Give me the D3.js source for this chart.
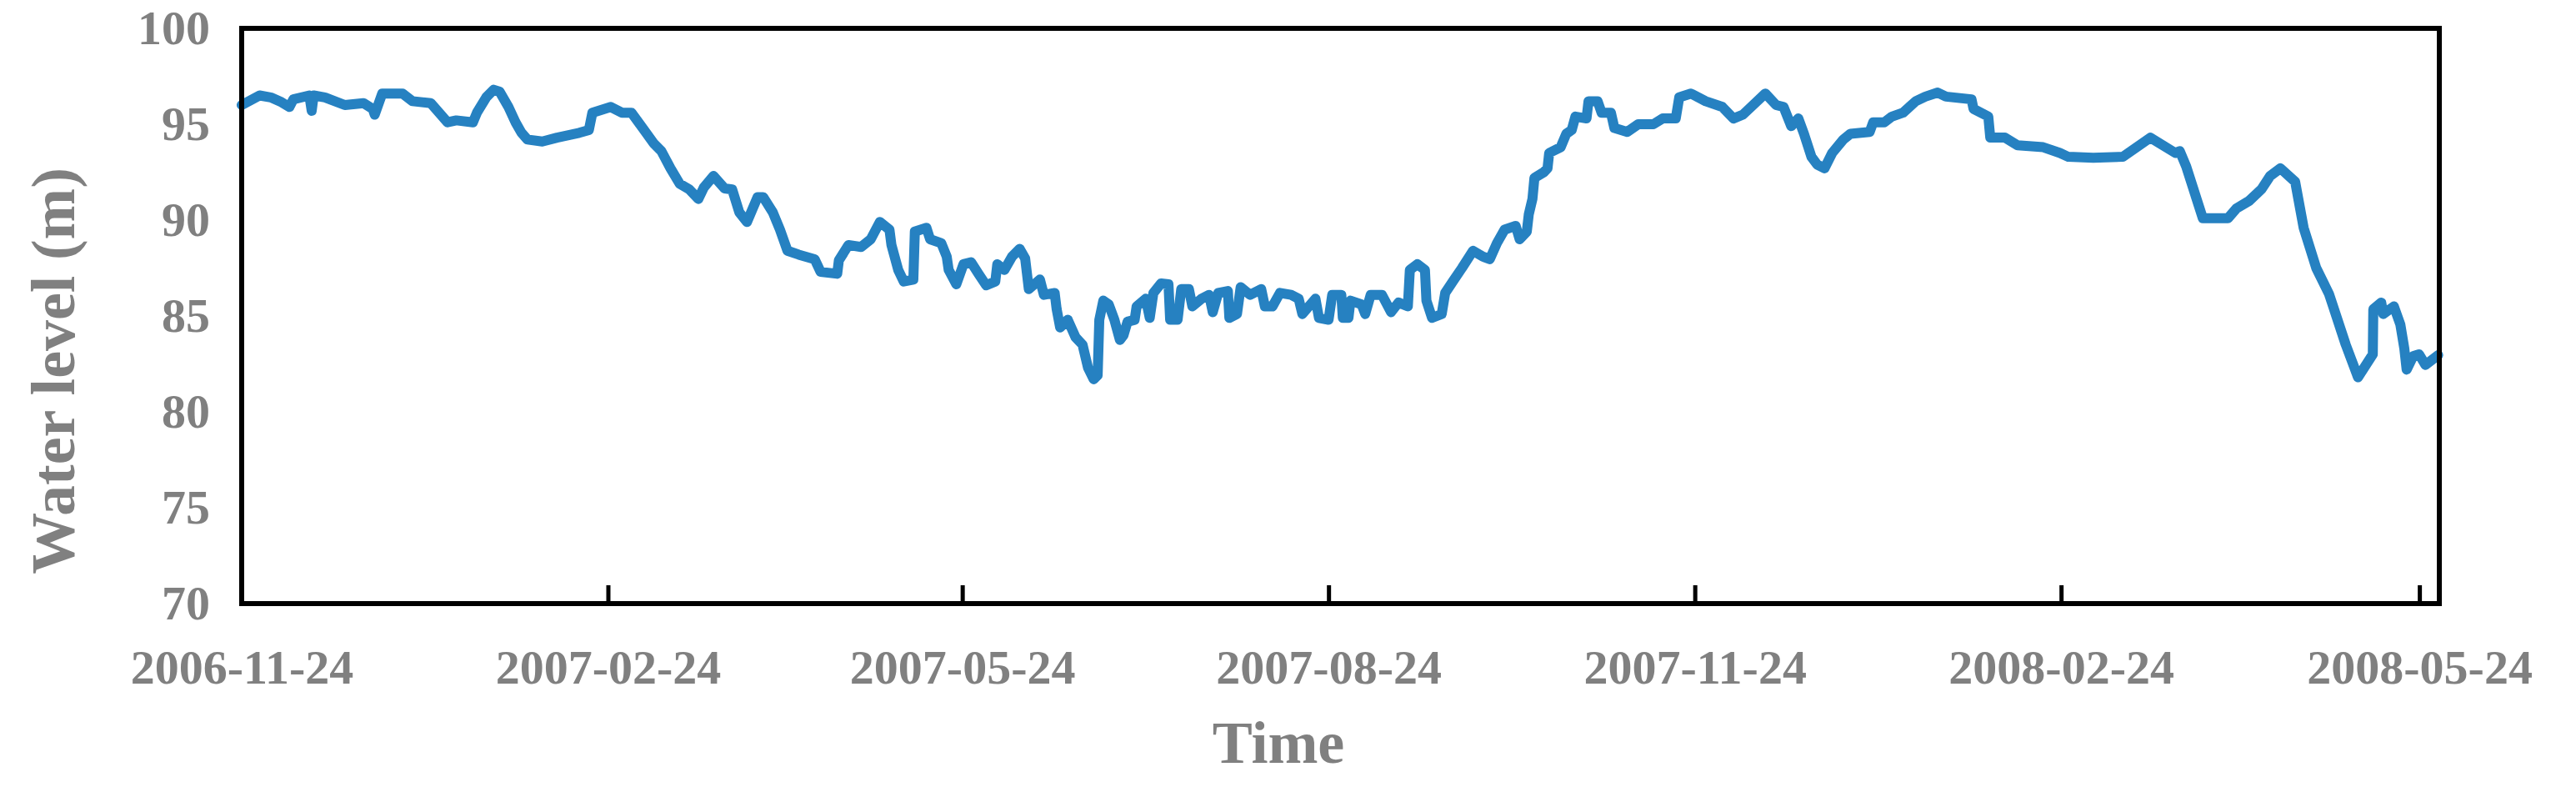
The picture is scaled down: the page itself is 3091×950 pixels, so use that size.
<!DOCTYPE html>
<html>
<head>
<meta charset="utf-8">
<script src="https://cdn.jsdelivr.net/npm/d3@7"></script>
<style>
  body { margin: 0; background: #fff; }
  svg { display: block; }
</style>
</head>
<body>
<svg id="vis" width="3091" height="950"></svg>
<script>
const startDate = '2006-11-24';
const endDate = '2008-05-29';

const tickDates = ['2006-11-24', '2007-02-24', '2007-05-24', '2007-08-24', '2007-11-24', '2008-02-24', '2008-05-24'];
const levelTicks = [70, 75, 80, 85, 90, 95, 100];

// days since 2006-11-24
const dayOffsets = [
  0, 4.5, 7.3, 10, 12, 13, 17, 17.6, 18.1, 20.9, 25.9, 30.6, 32.9, 33.4, 35.3, 40.4, 42.9, 47.5,
  51.7, 53.9, 58.1, 59.1, 61.4, 63.3, 64.8, 67, 68.8, 70.3, 71.8, 75.5, 79.2, 84.8, 87.2, 88.1,
  92.7, 95.5, 97.9, 100.7, 103.5, 105.4, 107.7, 110, 112.4, 114.7, 116.1, 118.5, 121.3, 123.2,
  125, 126.9, 129.6, 131, 133.4, 135.2, 137.1, 139.9, 143.9, 145.4, 149.6, 150, 152.4, 155.6,
  158, 160.3, 162.7, 163.2, 164.9, 166.3, 168.7, 169.1, 172, 172.9, 175.7, 177.1, 177.6, 179.5,
  181.3, 183.2, 185.1, 187, 189.3, 189.8, 191.6, 193.5, 195.4, 196.8, 197.7, 200.5, 201.5,
  204.2, 204.7, 205.6, 207.5, 209.4, 211.2, 212.6, 214, 215, 215.4, 216.4, 217.8, 219.2, 220.6,
  221.5, 222.5, 224.3, 224.8, 227.1, 228.1, 229, 230.9, 232.8, 233.2, 235.1, 236, 237.9, 238.8,
  241.1, 243, 243.9, 245.3, 247.7, 248.1, 250, 250.9, 253.3, 256.1, 257, 258.9, 260.8, 263.6,
  265.5, 266.4, 269.7, 270.6, 273, 273.9, 276.2, 276.6, 278, 278.5, 281.3, 282.2, 283.6, 286.4,
  288.7, 290.6, 292.9, 293.4, 295.3, 297.2, 297.6, 299, 301.4, 302.3, 304.2, 306.5, 309.3,
  311.7, 313.5, 315.3, 317.2, 320, 321, 322.8, 323.3, 324.2, 324.7, 327.1, 328, 328.4, 331.3,
  332.7, 334.1, 335, 337.8, 338.3, 340.6, 341.6, 343.9, 344.8, 348, 350.8, 354.6, 356.9, 360.2,
  361.1, 364, 367.7, 371.9, 374.7, 377.1, 382.7, 385.4, 387.3, 389.2, 391, 392.4, 394.3, 395.7,
  397.6, 399.5, 402.3, 404.1, 408.9, 409.8, 412.6, 414.5, 417.3, 420.5, 422.9, 426, 428.1,
  434.5, 435, 438.7, 439.2, 442.9, 446.1, 452.5, 456.7, 458.8, 465.1, 472.5, 479.4, 485.7,
  486.8, 488.4, 492.6, 498.9, 501, 504.2, 507.3, 509.5, 512.1, 515.8, 517.9, 521.1, 524.3,
  528.5, 531.6, 535.3, 535.4, 537.4, 537.9, 540.6, 542.2, 543.2, 543.8, 545.4, 546.9, 548.5, 551.7
];

const waterLevel = [
  96.0, 96.5, 96.4, 96.15, 95.9, 96.3, 96.5, 95.7, 96.5, 96.4, 96.0, 96.1, 95.8, 95.5, 96.6, 96.6, 96.2, 96.1,
  95.1, 95.2, 95.1, 95.6, 96.4, 96.8, 96.7, 95.9, 95.1, 94.55, 94.2, 94.1, 94.3, 94.55, 94.7, 95.6,
  95.9, 95.6, 95.6, 94.8, 94.0, 93.6, 92.7, 91.9, 91.6, 91.1, 91.7, 92.3, 91.65, 91.6,
  90.4, 89.9, 91.2, 91.2, 90.4, 89.5, 88.4, 88.2, 87.96, 87.3, 87.2, 87.9, 88.7, 88.6,
  89.0, 89.9, 89.5, 88.7, 87.4, 86.8, 86.9, 89.4, 89.6, 89.0, 88.8, 88.1, 87.4, 86.65,
  87.7, 87.8, 87.2, 86.6, 86.8, 87.7, 87.4, 88.1, 88.5, 88.0, 86.4, 86.9, 86.1,
  86.2, 85.35, 84.4, 84.8, 83.9, 83.5, 82.3, 81.7, 81.9, 84.8, 85.8, 85.6, 84.8, 83.75,
  84.0, 84.7, 84.8, 85.5, 85.9, 84.9, 86.2, 86.7, 86.65, 84.8, 84.8, 86.4, 86.4, 85.5,
  85.9, 86.1, 85.2, 86.2, 86.3, 84.9, 85.1, 86.5, 86.1, 86.4, 85.5, 85.5, 86.2, 86.1,
  85.9, 85.1, 85.9, 84.9, 84.8, 86.1, 86.1, 84.9, 84.9, 85.8, 85.6, 85.1, 86.1, 86.1,
  85.2, 85.7, 85.5, 87.4, 87.7, 87.4, 85.8, 84.9, 85.1, 86.2, 86.8, 87.5, 88.4,
  88.1, 87.96, 88.8, 89.5, 89.7, 89.0, 89.4, 90.3, 91.1, 92.2, 92.5, 92.7, 93.5, 93.8,
  94.5, 94.7, 95.4, 95.3, 96.2, 96.2, 95.6, 95.6, 94.8, 94.6, 95.0, 95.0, 95.3, 95.3,
  96.4, 96.6, 96.2, 95.9, 95.3, 95.5, 96.6, 96.0, 95.9, 94.9, 95.3, 94.5, 93.3, 92.9,
  92.7, 93.5, 94.2, 94.5, 94.6, 95.1, 95.1, 95.4, 95.6, 96.2, 96.44, 96.65, 96.44,
  96.3, 95.8, 95.4, 94.3, 94.3, 93.9, 93.8, 93.5, 93.3, 93.25, 93.3, 94.3, 93.5,
  93.6, 92.8, 90.1, 90.1, 90.6, 91.0, 91.6, 92.3, 92.7, 92.0, 89.6, 87.5, 86.15,
  83.5, 81.8, 83.0, 85.35, 85.7, 85.1, 85.5, 84.55, 83.3, 82.2, 82.9, 83.0, 82.45, 82.96
];

const parseDay = d3.utcParse('%Y-%m-%d');
const start = parseDay(startDate);
const points = dayOffsets.map((d, i) => ({
  date: d3.utcHour.offset(start, Math.round(d * 24)),
  level: waterLevel[i],
}));

const plotLeft = 290, plotRight = 2927, plotTop = 34, plotBottom = 724;
const grey = '#808080';
const font = '"Liberation Serif", "Times New Roman", Times, serif';

const x = d3.scaleUtc()
  .domain([start, parseDay(endDate)])
  .range([plotLeft, plotRight]);
const y = d3.scaleLinear()
  .domain([70, 100])
  .range([plotBottom, plotTop]);

const vis = d3.select('#vis');

const line = d3.line()
  .x(d => x(d.date))
  .y(d => y(d.level));

vis.append('path')
  .datum(points)
  .attr('fill', 'none')
  .attr('stroke', '#2681c1')
  .attr('stroke-width', 12)
  .attr('stroke-linejoin', 'round')
  .attr('stroke-linecap', 'round')
  .attr('d', line);

vis.append('rect')
  .attr('x', plotLeft)
  .attr('y', plotTop)
  .attr('width', plotRight - plotLeft)
  .attr('height', plotBottom - plotTop)
  .attr('fill', 'none')
  .attr('stroke', '#000')
  .attr('stroke-width', 6);

const xAxis = vis.append('g')
  .attr('transform', `translate(0,${plotBottom})`)
  .call(d3.axisBottom(x)
    .tickValues(tickDates.map(parseDay))
    .tickSize(-22)
    .tickFormat(d3.utcFormat('%Y-%m-%d')));
xAxis.select('.domain').remove();
xAxis.selectAll('.tick line').attr('stroke', '#000').attr('stroke-width', 5);
xAxis.selectAll('.tick text')
  .attr('y', 96)
  .attr('dy', null)
  .attr('fill', grey)
  .style('font-family', font)
  .style('font-weight', 'bold')
  .style('font-size', '58px');

const yAxis = vis.append('g')
  .attr('transform', `translate(${plotLeft},0)`)
  .call(d3.axisLeft(y).tickValues(levelTicks).tickSize(0).tickPadding(38));
yAxis.select('.domain').remove();
yAxis.selectAll('.tick text')
  .attr('fill', grey)
  .style('font-family', font)
  .style('font-weight', 'bold')
  .style('font-size', '58px');

vis.append('text')
  .attr('x', 1534)
  .attr('y', 915)
  .attr('text-anchor', 'middle')
  .attr('fill', grey)
  .style('font-family', font)
  .style('font-weight', 'bold')
  .style('font-size', '72px')
  .text('Time');

vis.append('text')
  .attr('transform', 'translate(89,445) rotate(-90)')
  .attr('text-anchor', 'middle')
  .attr('fill', grey)
  .style('font-family', font)
  .style('font-weight', 'bold')
  .style('font-size', '74px')
  .text('Water level (m)');
</script>
</body>
</html>
